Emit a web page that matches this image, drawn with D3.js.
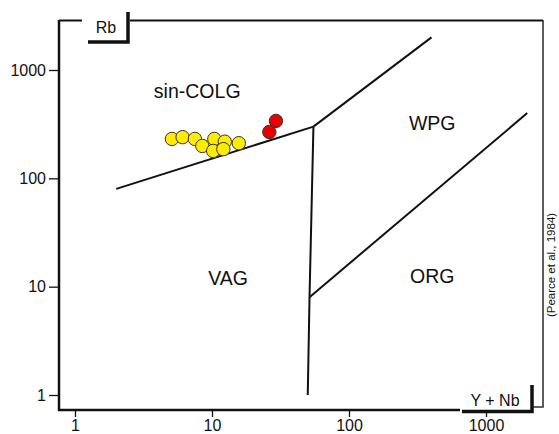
<!DOCTYPE html>
<html>
<head>
<meta charset="utf-8">
<script src="https://cdn.jsdelivr.net/npm/d3@7"></script>
<style>
  body { margin: 0; background: #fff; }
  text { font-family: "Liberation Sans", Arial, sans-serif; fill: #111; }
</style>
</head>
<body>
<div id="chart"></div>
<script>
// sample data: Y+Nb (ppm) and Rb (ppm)
var yellow_ynb = [5.1, 6.1, 7.5, 8.5, 10.4, 10.2, 12.4, 12.1, 15.7];
var yellow_rb  = [231, 240, 231, 199, 231, 179, 218, 186, 211];
var red_ynb = [26.2, 29.3];
var red_rb  = [268, 339];

// Pearce et al. (1984) field boundaries
var colg_vag  = [[2, 80], [55, 300]];
var colg_wpg  = [[55, 300], [400, 2000]];
var vag_split = [[55, 300], [51.5, 8], [50, 1]];
var wpg_org   = [[51.5, 8], [2000, 400]];

var field_names = ["sin-COLG", "WPG", "VAG", "ORG"];
var field_pos   = [[7.8, 640], [405, 320], [13.1, 12], [405, 12.5]];

var tick_vals = [1, 10, 100, 1000];

var w = 559, h = 434;
var svg = d3.select("#chart").append("svg")
    .attr("width", w)
    .attr("height", h);

var xscale = d3.scaleLog().domain([1, 1000]).range([75, 486]);
var yscale = d3.scaleLog().domain([1, 1000]).range([395, 70]);

// frame
var frame = svg.append("g").attr("fill", "none").attr("stroke", "#111");
frame.append("path").attr("stroke-width", 2.5)
    .attr("d", "M59,20 V410 H460");
frame.append("path").attr("stroke-width", 2)
    .attr("d", "M59,20.5 H82 M130,20.5 H543");
frame.append("path").attr("stroke-width", 1.6).attr("stroke", "#333")
    .attr("d", "M543,20 V407 H533");
// Rb label box
frame.append("path").attr("stroke-width", 3.5)
    .attr("d", "M88,42 H128 V12");
// Y + Nb label box
frame.append("path").attr("stroke-width", 3.5)
    .attr("d", "M462,411.5 H532 V385");

// axes
var yaxis = d3.axisLeft(yscale)
    .tickValues(tick_vals)
    .tickFormat(d3.format("d"))
    .tickSize(10)
    .tickPadding(3);
var xaxis = d3.axisBottom(xscale)
    .tickValues(tick_vals)
    .tickFormat(d3.format("d"))
    .tickSize(7)
    .tickPadding(3);

var gy = svg.append("g").attr("transform", "translate(59,0)").call(yaxis);
var gx = svg.append("g").attr("transform", "translate(0,410)").call(xaxis);
[gy, gx].forEach(function (g) {
    g.select(".domain").remove();
    g.selectAll(".tick line").attr("stroke", "#111").attr("stroke-width", 1.3);
    g.selectAll(".tick text")
        .style("font-size", "16px")
        .style("font-family", "Liberation Sans, Arial, sans-serif")
        .attr("fill", "#111");
});

// axis titles
svg.append("text").attr("x", 106).attr("y", 33)
    .attr("text-anchor", "middle").style("font-size", "16px").text("Rb");
svg.append("text").attr("x", 495).attr("y", 406)
    .attr("text-anchor", "middle").style("font-size", "16px").text("Y + Nb");
svg.append("text")
    .attr("transform", "translate(555,265) rotate(-90)")
    .attr("text-anchor", "middle").style("font-size", "11.5px")
    .text("(Pearce et al., 1984)");

// field boundaries
var line = d3.line()
    .x(function (d) { return xscale(d[0]); })
    .y(function (d) { return yscale(d[1]); });
[colg_vag, colg_wpg, vag_split, wpg_org].forEach(function (seg) {
    svg.append("path")
        .attr("d", line(seg))
        .attr("fill", "none")
        .attr("stroke", "#111")
        .attr("stroke-width", 2)
        .attr("stroke-linejoin", "round");
});

// field labels
svg.selectAll("text.field")
    .data(field_names)
  .enter().append("text")
    .attr("class", "field")
    .attr("x", function (d, i) { return xscale(field_pos[i][0]); })
    .attr("y", function (d, i) { return yscale(field_pos[i][1]); })
    .attr("dy", "0.35em")
    .attr("text-anchor", "middle")
    .style("font-size", "19.5px")
    .text(function (d) { return d; });

// samples
function draw_points(xs, ys, colour) {
    svg.append("g").selectAll("circle")
        .data(xs)
      .enter().append("circle")
        .attr("cx", function (d) { return xscale(d); })
        .attr("cy", function (d, i) { return yscale(ys[i]); })
        .attr("r", 6.7)
        .attr("fill", colour)
        .attr("stroke", "#333")
        .attr("stroke-width", 1);
}
draw_points(yellow_ynb, yellow_rb, "#ffec00");
draw_points(red_ynb, red_rb, "#e60000");
</script>
</body>
</html>
